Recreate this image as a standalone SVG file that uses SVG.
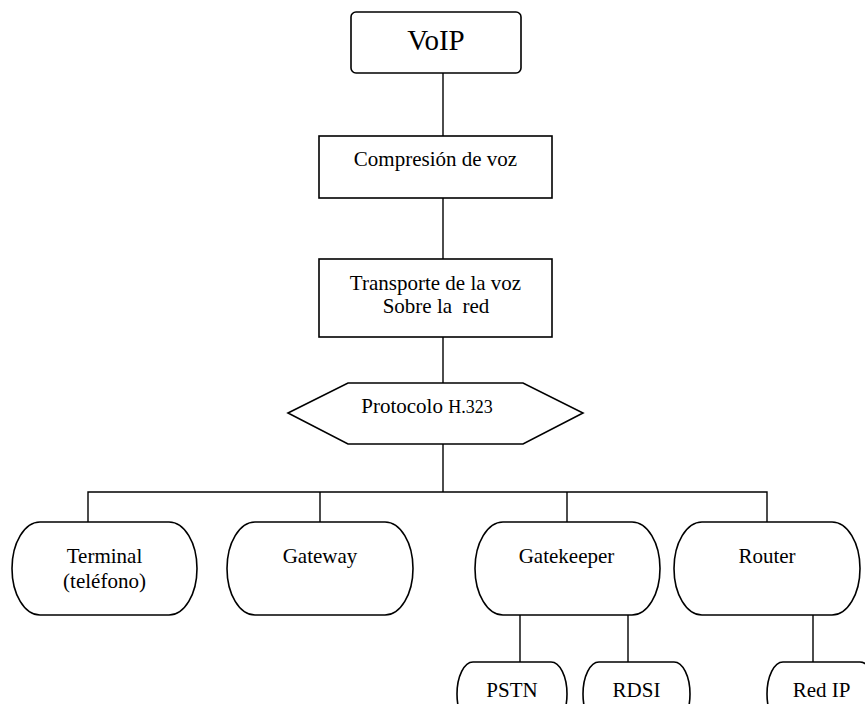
<svg xmlns="http://www.w3.org/2000/svg" width="865" height="704" viewBox="0 0 865 704">
  <style>
    .shape { fill: #fff; stroke: #000; stroke-width: 1.6; }
    .link { fill: none; stroke: #000; stroke-width: 1.4; }
    text { font-family: "Liberation Serif", "Times New Roman", serif; font-size: 21px; fill: #000; text-anchor: middle; }
    .title { font-size: 29px; }
    .small { font-size: 18px; }
  </style>
  <rect width="865" height="704" fill="#fff"/>

  <!-- connectors -->
  <g id="connectors">
    <line class="link" x1="443" y1="73" x2="443" y2="136"/>
    <line class="link" x1="443" y1="198" x2="443" y2="259"/>
    <line class="link" x1="443" y1="337" x2="443" y2="383"/>
    <line class="link" x1="443" y1="444" x2="443" y2="492"/>
    <polyline class="link" points="88,522 88,492 767,492 767,522"/>
    <line class="link" x1="320" y1="492" x2="320" y2="522"/>
    <line class="link" x1="567" y1="492" x2="567" y2="522"/>
    <line class="link" x1="520" y1="615" x2="520" y2="662"/>
    <line class="link" x1="628" y1="615" x2="628" y2="662"/>
    <line class="link" x1="813" y1="615" x2="813" y2="662"/>
  </g>

  <g id="voip">
    <rect class="shape" x="351" y="12" width="170" height="61" rx="5"/>
    <text class="title" x="436" y="50">VoIP</text>
  </g>

  <g id="compresion">
    <rect class="shape" x="319" y="136" width="233" height="62"/>
    <text x="435.5" y="166">Compresión de voz</text>
  </g>

  <g id="transporte">
    <rect class="shape" x="319" y="259" width="233" height="78"/>
    <text x="435.5" y="290">Transporte de la voz</text>
    <text x="436" y="313" xml:space="preserve">Sobre la  red</text>
  </g>

  <g id="protocolo">
    <polygon class="shape" points="288,413 348,383 523,383 583,413 523,444 348,444"/>
    <text x="427" y="413">Protocolo <tspan class="small">H.323</tspan></text>
  </g>

  <g id="terminal">
    <path class="shape" d="M40,522 H169 A28,46.5 0 0 1 169,615 H40 A28,46.5 0 0 1 40,522 Z"/>
    <text x="104.5" y="563">Terminal</text>
    <text x="104.5" y="588">(teléfono)</text>
  </g>

  <g id="gateway">
    <path class="shape" d="M255,522 H385 A28,46.5 0 0 1 385,615 H255 A28,46.5 0 0 1 255,522 Z"/>
    <text x="320" y="563">Gateway</text>
  </g>

  <g id="gatekeeper">
    <path class="shape" d="M503,522 H632 A28,46.5 0 0 1 632,615 H503 A28,46.5 0 0 1 503,522 Z"/>
    <text x="566.5" y="563">Gatekeeper</text>
  </g>

  <g id="router">
    <path class="shape" d="M702,522 H832 A28,46.5 0 0 1 832,615 H702 A28,46.5 0 0 1 702,522 Z"/>
    <text x="767" y="563">Router</text>
  </g>

  <g id="pstn">
    <path class="shape" d="M473,662 H551 A16,32 0 0 1 551,726 H473 A16,32 0 0 1 473,662 Z"/>
    <text x="512" y="697">PSTN</text>
  </g>

  <g id="rdsi">
    <path class="shape" d="M599,662 H674 A16,32 0 0 1 674,726 H599 A16,32 0 0 1 599,662 Z"/>
    <text x="636.5" y="697">RDSI</text>
  </g>

  <g id="red-ip">
    <path class="shape" d="M783,662 H860 A16,32 0 0 1 860,726 H783 A16,32 0 0 1 783,662 Z"/>
    <text x="821.5" y="697">Red IP</text>
  </g>
</svg>
